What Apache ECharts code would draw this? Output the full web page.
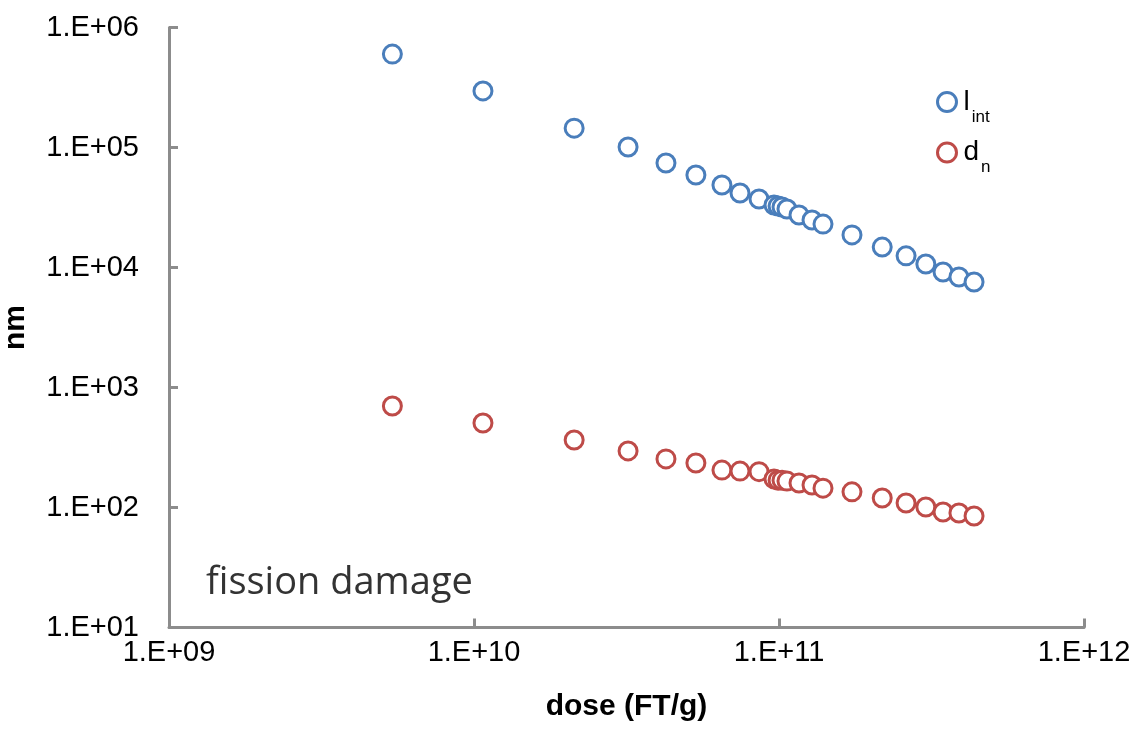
<!DOCTYPE html>
<html>
<head>
<meta charset="utf-8">
<style>
  html, body { margin: 0; padding: 0; background: #ffffff; }
  #chart { width: 1142px; height: 730px; }
</style>
<script src="https://cdn.jsdelivr.net/npm/echarts@6/dist/echarts.min.js"></script>
</head>
<body>
<div id="chart"></div>
<script>
// Fission-track dose (FT/g)
const dose = [
  5.4e9, 1.07e10, 2.13e10, 3.2e10, 4.26e10, 5.34e10, 6.5e10, 7.45e10, 8.6e10,
  9.63e10, 9.93e10, 1.023e11, 1.062e11, 1.163e11, 1.283e11, 1.394e11,
  1.735e11, 2.18e11, 2.61e11, 3.03e11, 3.45e11, 3.89e11, 4.36e11
];
// l_int (nm)
const lInt = [
  6.0e5, 2.96e5, 1.45e5, 1.01e5, 7.43e4, 5.9e4, 4.87e4, 4.18e4, 3.72e4,
  3.32e4, 3.25e4, 3.19e4, 3.07e4, 2.74e4, 2.49e4, 2.3e4,
  1.87e4, 1.48e4, 1.25e4, 1.07e4, 9.17e3, 8.33e3, 7.57e3
];
// d_n (nm)
const dN = [
  701, 506, 365, 296, 254, 235, 205, 201, 199,
  173, 169, 169, 166, 160, 154, 145,
  135, 120, 109, 101, 91.7, 90, 85
];
// Axis tick labels, keyed by decade exponent
const xTickLabels = { 9: '1.E+09', 10: '1.E+10', 11: '1.E+11', 12: '1.E+12' };
const yTickLabels = { 1: '1.E+01', 2: '1.E+02', 3: '1.E+03', 4: '1.E+04', 5: '1.E+05', 6: '1.E+06' };

const seriesNames = ['lint', 'dn'];
const legendText = { lint: '{m|l}{s|int}', dn: '{m|d}{s|n}' };

const BLUE = '#4a7ebb';
const RED = '#be4b48';
const AXIS = '#8c8c8c';
const FONT = '"Liberation Sans", Arial, sans-serif';

const pairs = (xs, ys) => xs.map((x, i) => [x, ys[i]]);
const expOf = v => Math.round(Math.log10(v));
const seriesColor = { lint: BLUE, dn: RED };

const chart = echarts.init(document.getElementById('chart'), null, { renderer: 'canvas' });

chart.setOption({
  backgroundColor: '#ffffff',
  animation: false,
  grid: {
    left: 169, top: 27.5, width: 915, height: 600,
    containLabel: false, outerBoundsMode: 'none'
  },
  xAxis: {
    type: 'log', logBase: 10, min: 1e9, max: 1e12,
    name: 'dose (FT/g)', nameLocation: 'middle', nameGap: 64,
    nameTextStyle: { fontFamily: FONT, fontSize: 30, fontWeight: 'bold', color: '#000' },
    axisLine: { show: true, onZero: false, lineStyle: { color: AXIS, width: 3 } },
    axisTick: { show: true, inside: true, length: 9, lineStyle: { color: AXIS, width: 3 } },
    axisLabel: {
      margin: 11, fontFamily: FONT, fontSize: 29, color: '#000',
      formatter: v => xTickLabels[expOf(v)] || ''
    },
    splitLine: { show: false },
    minorTick: { show: false }
  },
  yAxis: {
    type: 'log', logBase: 10, min: 10, max: 1e6,
    name: 'nm', nameLocation: 'middle', nameGap: 138, nameRotate: 90,
    nameTextStyle: { fontFamily: FONT, fontSize: 30, fontWeight: 'bold', color: '#000' },
    axisLine: { show: true, onZero: false, lineStyle: { color: AXIS, width: 3 } },
    axisTick: { show: true, inside: true, length: 9, lineStyle: { color: AXIS, width: 3 } },
    axisLabel: {
      margin: 30, fontFamily: FONT, fontSize: 29, color: '#000',
      formatter: v => yTickLabels[expOf(v)] || ''
    },
    splitLine: { show: false }
  },
  legend: {
    data: seriesNames.map(n => ({
      name: n,
      icon: 'circle',
      itemStyle: { color: '#ffffff', borderColor: seriesColor[n], borderWidth: 3 }
    })),
    orient: 'vertical',
    left: 931, top: 83,
    itemWidth: 19, itemHeight: 19, itemGap: 13,
    formatter: name => legendText[name],
    textStyle: {
      fontFamily: FONT, color: '#000', padding: [0, 0, 0, 0],
      rich: {
        m: { fontFamily: FONT, fontSize: 28, color: '#000', padding: [0, 0, 0, 2] },
        s: { fontFamily: FONT, fontSize: 17, color: '#000', padding: [30, 0, 0, 2] }
      }
    }
  },
  graphic: [{
    type: 'text', left: 206, top: 564,
    style: {
      text: 'fission damage',
      font: '38px "Open Sans", "Noto Sans", sans-serif',
      fill: '#333333'
    }
  }],
  series: [
    {
      name: 'lint', type: 'scatter', symbol: 'circle', symbolSize: 18,
      itemStyle: { color: '#ffffff', borderColor: BLUE, borderWidth: 3, opacity: 1 },
      data: pairs(dose, lInt)
    },
    {
      name: 'dn', type: 'scatter', symbol: 'circle', symbolSize: 18,
      itemStyle: { color: '#ffffff', borderColor: RED, borderWidth: 3, opacity: 1 },
      data: pairs(dose, dN)
    }
  ]
});
</script>
</body>
</html>
